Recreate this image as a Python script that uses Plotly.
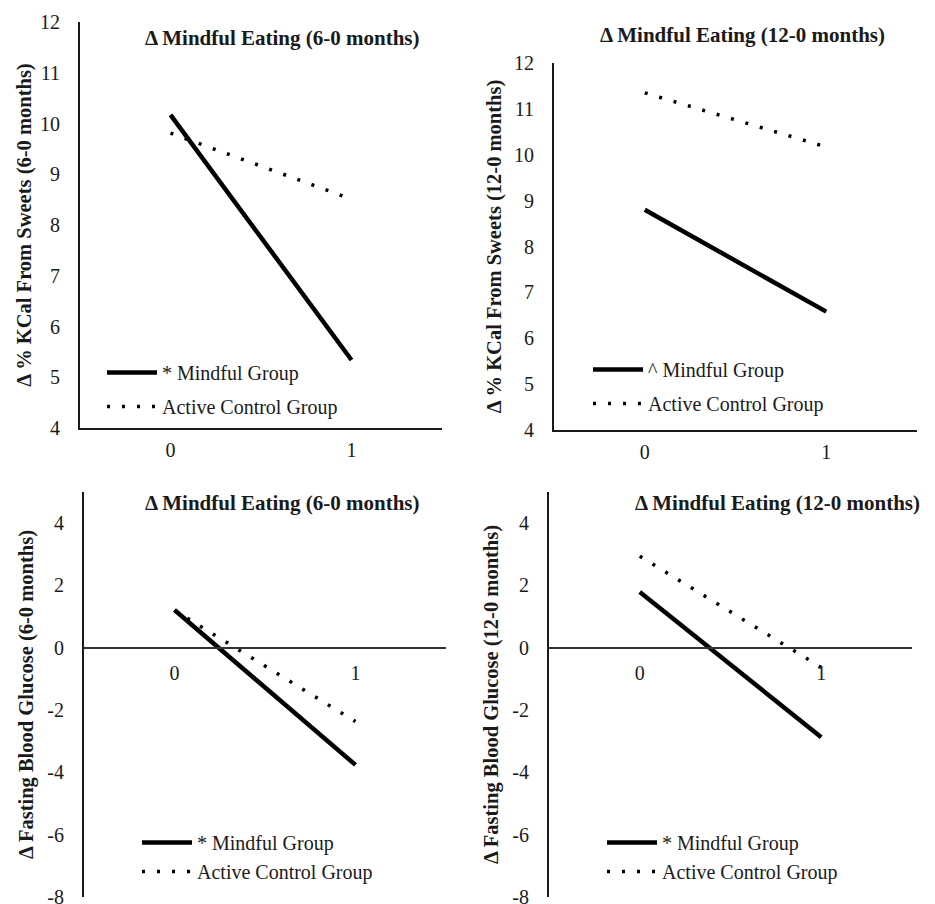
import plotly.graph_objects as go

# ---- data ----
x_cats = [0, 1]
x_ticklabels = ["0", "1"]

sweets6_mindful = [10.17, 5.34]
sweets6_control = [9.81, 8.51]
sweets12_mindful = [8.80, 6.58]
sweets12_control = [11.35, 10.17]
glucose6_mindful = [1.21, -3.76]
glucose6_control = [1.20, -2.37]
glucose12_mindful = [1.79, -2.87]
glucose12_control = [2.94, -0.63]

panel_titles = ["Δ Mindful Eating (6-0 months)", "Δ Mindful Eating (12-0 months)",
                "Δ Mindful Eating (6-0 months)", "Δ Mindful Eating (12-0 months)"]
y_titles = ["Δ % KCal From Sweets (6-0 months)", "Δ % KCal From Sweets (12-0 months)",
            "Δ Fasting Blood Glucose (6-0 months)", "Δ Fasting Blood Glucose (12-0 months)"]
mindful_names = ["* Mindful Group", "^ Mindful Group", "* Mindful Group", "* Mindful Group"]
control_name = "Active Control Group"

sweets_ticks = [4, 5, 6, 7, 8, 9, 10, 11, 12]
sweets_ticktext = ["4", "5", "6", "7", "8", "9", "10", "11", "12"]
glucose_ticks = [-8, -6, -4, -2, 0, 2, 4]
glucose_ticktext = ["-8", "-6", "-4", "-2", "0", "2", "4"]

# ---- layout geometry (window pixels; page body has an 8px margin) ----
W, H = 935, 904
OFF = 8
FONT = "Liberation Serif"
INK = "#1a1a1a"
panels = [
    dict(px=(80, 442), py=(22, 428), yr=(4, 12), ticks=(sweets_ticks, sweets_ticktext),
         data=(sweets6_mindful, sweets6_control), title_xy=(282, 38), leg_xy=(102, 353),
         cross=False, standoff=3, gap=5),
    dict(px=(554, 917), py=(63, 430), yr=(4, 12), ticks=(sweets_ticks, sweets_ticktext),
         data=(sweets12_mindful, sweets12_control), title_xy=(742, 35), leg_xy=(588, 350),
         cross=False, standoff=7, gap=5),
    dict(px=(84, 446), py=(492, 897), yr=(-8, 5), ticks=(glucose_ticks, glucose_ticktext),
         data=(glucose6_mindful, glucose6_control), title_xy=(282, 503), leg_xy=(137, 823),
         cross=True, standoff=8, gap=0),
    dict(px=(549, 912), py=(492, 897), yr=(-8, 5), ticks=(glucose_ticks, glucose_ticktext),
         data=(glucose12_mindful, glucose12_control), title_xy=(777, 503), leg_xy=(602, 823),
         cross=True, standoff=8, gap=0),
]


def fx(px):
    return (px - OFF) / W


def fy(py):
    return 1 - (py - OFF) / H


fig = go.Figure()
annotations = []
layout = dict(width=W, height=H, margin=dict(l=0, r=0, t=0, b=0, pad=0), template="none",
              paper_bgcolor="white", plot_bgcolor="white", showlegend=True,
              font=dict(family=FONT, color=INK, size=20))

for i, p in enumerate(panels):
    n = "" if i == 0 else str(i + 1)
    xd = [fx(p["px"][0]), fx(p["px"][1])]
    yd = [fy(p["py"][1]), fy(p["py"][0])]
    leg = "legend" + n
    m, c = p["data"]
    fig.add_trace(go.Scatter(x=x_cats, y=m, mode="lines", name=mindful_names[i],
                             legendgroup="m" + n,
                             line=dict(color="black", width=4.5),
                             xaxis="x" + n, yaxis="y" + n, legend=leg))
    fig.add_trace(go.Scatter(x=x_cats, y=c, mode="lines", name=control_name,
                             legendgroup="c" + n,
                             line=dict(color="black", width=3.5, dash="3px,12px"),
                             xaxis="x" + n, yaxis="y" + n, legend=leg))
    xa = dict(domain=xd, range=[-0.5, 1.5], tickvals=x_cats, ticktext=x_ticklabels,
              showgrid=False, zeroline=False, ticks="", ticklabelstandoff=3, automargin=False,
              tickfont=dict(size=20, family=FONT, color=INK),
              showline=True, linecolor=INK, linewidth=2)
    if p["cross"]:
        ymin, ymax = p["yr"]
        pos = yd[0] + (0 - ymin) / (ymax - ymin) * (yd[1] - yd[0])
        xa.update(anchor="free", position=pos, linecolor="#333333", linewidth=1.5,
                  ticklabelstandoff=7)
    else:
        xa.update(anchor="y" + n)
    ya = dict(domain=yd, range=list(p["yr"]), tickvals=p["ticks"][0], ticktext=p["ticks"][1],
              showgrid=False, zeroline=False, automargin=False,
              ticks="", showline=True, linecolor=INK, linewidth=2, anchor="x" + n,
              ticklabelstandoff=14, tickfont=dict(size=20, family=FONT, color=INK),
              title=dict(text=y_titles[i], font=dict(size=20.5, family=FONT, color=INK, weight="bold"),
                         standoff=p["standoff"]))
    layout["xaxis" + n] = xa
    layout["yaxis" + n] = ya
    layout[leg] = dict(x=fx(p["leg_xy"][0]), y=fy(p["leg_xy"][1]), xanchor="left", yanchor="top",
                       bgcolor="rgba(0,0,0,0)", itemwidth=50, tracegroupgap=p["gap"], borderwidth=0,
                       font=dict(size=20, family=FONT, color=INK))
    annotations.append(dict(text=panel_titles[i], x=fx(p["title_xy"][0]), y=fy(p["title_xy"][1]),
                            xref="paper", yref="paper", showarrow=False, xanchor="center", yanchor="middle",
                            font=dict(size=21, family=FONT, color=INK, weight="bold")))

layout["annotations"] = annotations
fig.update_layout(**layout)
fig.write_html("out.html")
